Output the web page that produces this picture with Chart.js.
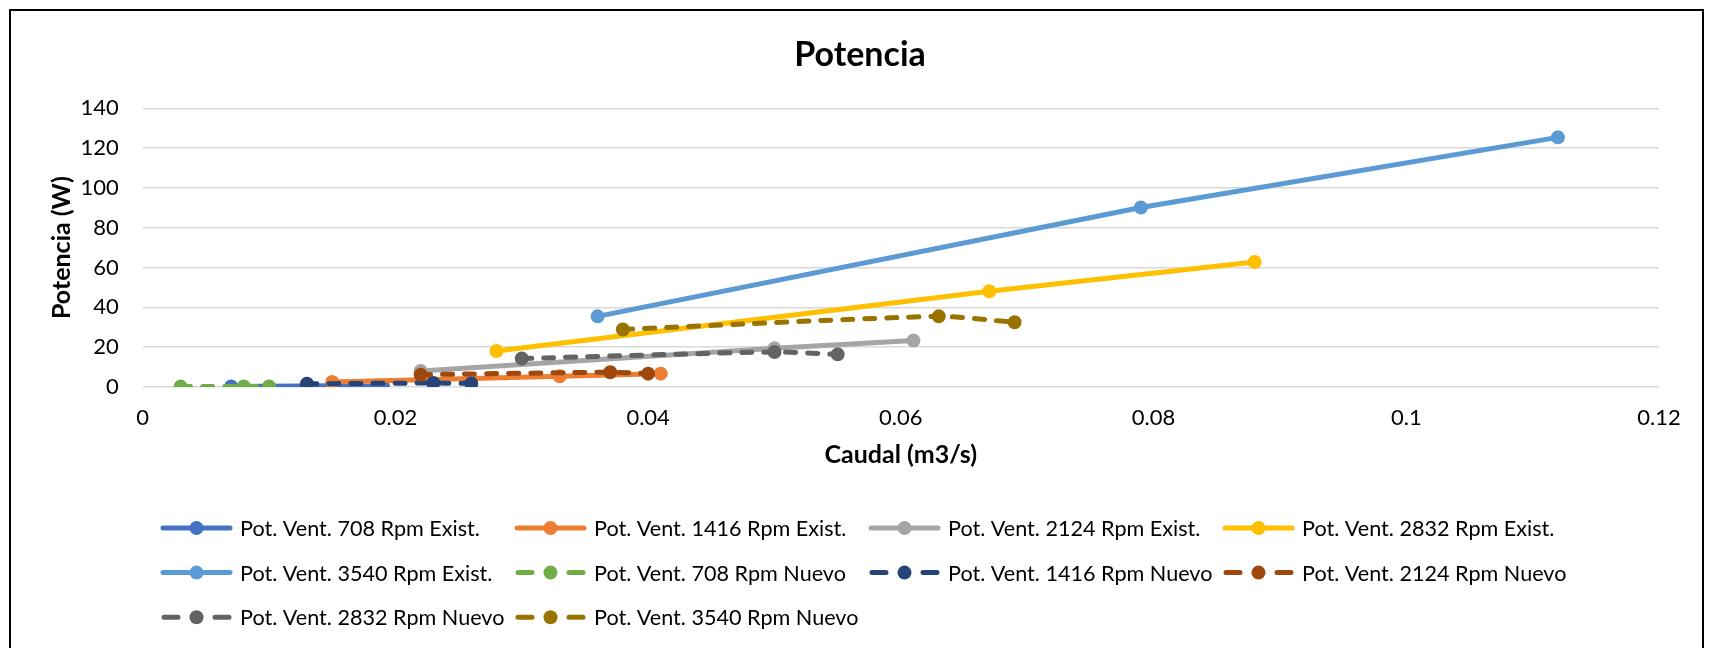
<!DOCTYPE html>
<html>
<head>
<meta charset="utf-8">
<script src="https://cdn.jsdelivr.net/npm/chart.js@4/dist/chart.umd.min.js"></script>
<style>
  html, body { margin: 0; padding: 0; background: #fff; overflow: hidden; }
  #wrap { position: relative; width: 1710px; height: 648px; }
  #frame {
    position: absolute; left: 9px; top: 9px; width: 1695px; height: 700px;
    box-sizing: border-box; border: 2px solid #000; border-bottom: none;
  }
  canvas { position: absolute; left: 0; top: 0; }
</style>
</head>
<body>
<div id="wrap">
  <div id="frame"></div>
  <canvas id="myChart" width="1710" height="648"></canvas>
</div>
<script>
const chartTitle = "Potencia";
const xTickLabels = ["0", "0.02", "0.04", "0.06", "0.08", "0.1", "0.12"];
const yTickLabels = ["0", "20", "40", "60", "80", "100", "120", "140"];

const seriesNames = [
  "Pot. Vent. 708 Rpm Exist.",
  "Pot. Vent. 1416 Rpm Exist.",
  "Pot. Vent. 2124 Rpm Exist.",
  "Pot. Vent. 2832 Rpm Exist.",
  "Pot. Vent. 3540 Rpm Exist.",
  "Pot. Vent. 708 Rpm Nuevo",
  "Pot. Vent. 1416 Rpm Nuevo",
  "Pot. Vent. 2124 Rpm Nuevo",
  "Pot. Vent. 2832 Rpm Nuevo",
  "Pot. Vent. 3540 Rpm Nuevo",
];

// caudal (m3/s) and potencia (W) per series
const q708Exist = [0.007, 0.015, 0.019];
const p708Exist = [0.3, 0.6, 0.4];
const q1416Exist = [0.015, 0.033, 0.041];
const p1416Exist = [2.5, 5.4, 6.7];
const q2124Exist = [0.022, 0.05, 0.061];
const p2124Exist = [8.0, 19.5, 23.3];
const q2832Exist = [0.028, 0.067, 0.088];
const p2832Exist = [18.1, 48.1, 62.8];
const q3540Exist = [0.036, 0.079, 0.112];
const p3540Exist = [35.5, 90.2, 125.4];
const q708Nuevo = [0.003, 0.008, 0.01];
const p708Nuevo = [0.2, 0.3, 0.3];
const q1416Nuevo = [0.013, 0.023, 0.026];
const p1416Nuevo = [1.6, 2.0, 1.8];
const q2124Nuevo = [0.022, 0.037, 0.04];
const p2124Nuevo = [6.2, 7.4, 6.7];
const q2832Nuevo = [0.03, 0.05, 0.055];
const p2832Nuevo = [14.3, 17.6, 16.4];
const q3540Nuevo = [0.038, 0.063, 0.069];
const p3540Nuevo = [28.9, 35.5, 32.5];

const caudal = [q708Exist, q1416Exist, q2124Exist, q2832Exist, q3540Exist,
  q708Nuevo, q1416Nuevo, q2124Nuevo, q2832Nuevo, q3540Nuevo];
const potencia = [p708Exist, p1416Exist, p2124Exist, p2832Exist, p3540Exist,
  p708Nuevo, p1416Nuevo, p2124Nuevo, p2832Nuevo, p3540Nuevo];

const colors = ["#4472C4", "#ED7D31", "#A5A5A5", "#FFC000", "#5B9BD5",
  "#70AD47", "#264478", "#9E480E", "#636363", "#997300"];

const FONT = "Lato, 'Open Sans', sans-serif";

let datasets = seriesNames.map((name, i) => {
  let dashed = i >= 5;
  return {
    label: name,
    data: caudal[i].map((q, j) => ({ x: q, y: potencia[i][j] })),
    showLine: true,
    borderColor: colors[i],
    backgroundColor: colors[i],
    borderWidth: 5,
    borderDash: dashed ? [10, 12] : [],
    borderCapStyle: "round",
    tension: dashed ? 0.2 : 0,
    pointRadius: 6,
    pointBorderWidth: 2,
    pointHoverRadius: 6,
    order: seriesNames.length - i,
  };
});

// title sits over the whole frame, not just the plot
const frameTitle = {
  id: "frameTitle",
  afterDraw(chart) {
    let ctx = chart.ctx;
    ctx.save();
    ctx.fillStyle = "#000";
    ctx.font = "bold 34px " + FONT;
    ctx.textAlign = "center";
    ctx.textBaseline = "middle";
    ctx.fillText(chartTitle, 860, 55);
    ctx.restore();
  },
};

// legend drawn on the canvas, 4 columns like the original
const gridLegend = {
  id: "gridLegend",
  afterDraw(chart) {
    let ctx = chart.ctx;
    let startX = 161, colW = 354, rowY = 528, rowH = 44.6;
    ctx.save();
    chart.data.datasets.forEach((ds, i) => {
      let x = startX + (i % 4) * colW;
      let y = rowY + Math.floor(i / 4) * rowH;
      ctx.strokeStyle = ds.borderColor;
      ctx.fillStyle = ds.borderColor;
      ctx.lineWidth = 5;
      ctx.lineCap = "round";
      ctx.beginPath();
      if (ds.borderDash.length) {
        ctx.moveTo(x + 3, y); ctx.lineTo(x + 17, y);
        ctx.moveTo(x + 54, y); ctx.lineTo(x + 68, y);
      } else {
        ctx.moveTo(x + 2, y); ctx.lineTo(x + 69, y);
      }
      ctx.stroke();
      ctx.beginPath();
      ctx.arc(x + 35.5, y, 7, 0, Math.PI * 2);
      ctx.fill();
      ctx.fillStyle = "#000";
      ctx.font = "21.6px " + FONT;
      ctx.textBaseline = "middle";
      ctx.textAlign = "left";
      ctx.fillText(ds.label, x + 79, y + 1);
    });
    ctx.restore();
  },
};

let ctx = document.getElementById("myChart").getContext("2d");

let myChart = new Chart(ctx, {
  type: "scatter",
  data: { datasets },
  plugins: [frameTitle, gridLegend],
  options: {
    responsive: false,
    animation: false,
    devicePixelRatio: 1,
    layout: { padding: { left: 10, right: 51, top: 108.3, bottom: 173 } },
    plugins: {
      legend: { display: false },
      tooltip: { enabled: false },
      title: { display: false },
    },
    scales: {
      x: {
        type: "linear",
        min: 0,
        max: 0.12,
        ticks: {
          stepSize: 0.02,
          color: "#000",
          padding: 18,
          font: { family: FONT, size: 22 },
          callback: (v, i) => xTickLabels[i],
        },
        grid: { display: false, drawTicks: false },
        border: { display: false },
        title: {
          display: true,
          text: "Caudal (m3/s)",
          color: "#000",
          font: { family: FONT, size: 25, weight: "bold" },
          padding: { top: 4, bottom: 5 },
        },
        afterFit: (s) => { s.height = 88; },
      },
      y: {
        min: 0,
        max: 140,
        ticks: {
          stepSize: 20,
          color: "#000",
          padding: 24,
          font: { family: FONT, size: 22 },
          callback: (v, i) => yTickLabels[i],
        },
        grid: { color: "#D9D9D9", lineWidth: 1.5, drawTicks: false },
        border: { display: false },
        title: {
          display: true,
          text: "Potencia (W)",
          color: "#000",
          font: { family: FONT, size: 25, weight: "bold" },
          padding: { top: 37, bottom: 4 },
        },
        afterFit: (s) => { s.width = 132.7; },
      },
    },
  },
});
</script>
</body>
</html>
